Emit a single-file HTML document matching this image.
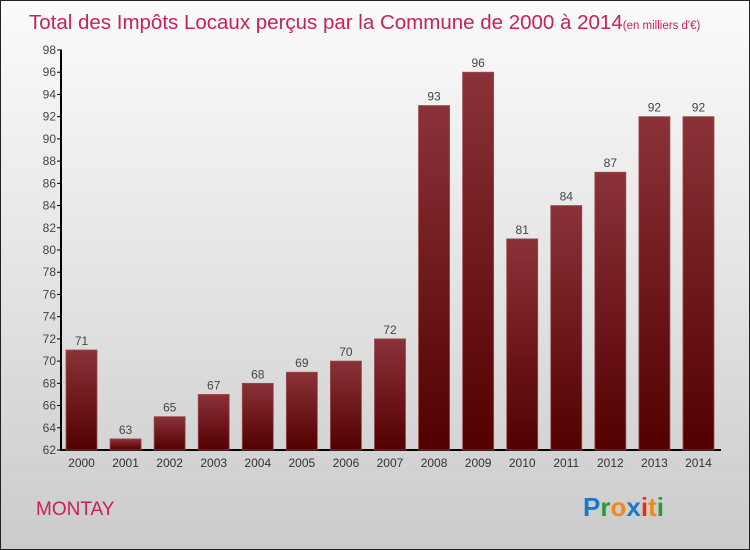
<!DOCTYPE html>
<html><head><meta charset="utf-8"><style>
body{margin:0}
#c{position:relative;width:748px;height:548px;border:1px solid #222;background:linear-gradient(#fbfbfb,#e4e4e4 50%,#cbcbcb);font-family:"Liberation Sans",sans-serif;overflow:hidden}
</style></head><body>
<div id="c">
<svg width="748" height="548" id="s">
<defs><linearGradient id="g" x1="0" y1="0" x2="0" y2="1"><stop offset="0" stop-color="#8a3238"/><stop offset="1" stop-color="#520000"/></linearGradient></defs>
<text x="28" y="28" font-size="20.5" fill="#c8205a">Total des Impôts Locaux perçus par la Commune de 2000 à 2014<tspan font-size="11.5">(en milliers d'€)</tspan></text>
<text x="35" y="514" font-size="19" fill="#c8205a">MONTAY</text>
<text x="582" y="515" font-size="26" font-weight="bold"><tspan fill="#1a78c8">P</tspan><tspan fill="#2a9a3a">r</tspan><tspan fill="#f08a10">o</tspan><tspan fill="#1a78c8">x</tspan><tspan fill="#e83010">i</tspan><tspan fill="#f08a10">t</tspan><tspan fill="#2a9a3a">i</tspan></text>
<g id="ax"></g><g id="bars"></g>
</svg></div>
<script>
const years=["2000","2001","2002","2003","2004","2005","2006","2007","2008","2009","2010","2011","2012","2013","2014"];
const values=[71,63,65,67,68,69,70,72,93,96,81,84,87,92,92];
const ticks=[62,64,66,68,70,72,74,76,78,80,82,84,86,88,90,92,94,96,98];
const NS="http://www.w3.org/2000/svg";
const y=v=>449-(v-62)*(400/36);
const x=i=>80+i*44.07;
const ax=document.getElementById('ax'),bg=document.getElementById('bars');
function mk(t,a,p,txt){const e=document.createElementNS(NS,t);for(const k in a)e.setAttribute(k,a[k]);if(txt!=null)e.textContent=txt;p.appendChild(e);return e;}
const yl=mk('line',{x1:60,x2:60,y1:y(98),y2:y(62),stroke:'#000','stroke-width':2},ax);


const xl=mk('line',{x1:59,x2:720,y1:y(62),y2:y(62),stroke:'#000','stroke-width':2},ax);


ticks.forEach(t=>{
 mk('line',{x1:56,x2:61,y1:y(t),y2:y(t),stroke:'#000'},ax);
 const e=mk('text',{x:55,y:y(t)+4,'font-size':12,fill:'#444','text-anchor':'end'},ax,t);
 
 
});
years.forEach((yr,i)=>{
 const r=mk('rect',{x:x(i)-15,y:y(values[i]),width:31,height:y(62)-y(values[i]),fill:'url(#g)',stroke:'#9a4a50','stroke-width':0.8},bg);
 
 
 const v=mk('text',{x:x(i)+0.5,y:y(values[i])-5,'font-size':12,fill:'#444','text-anchor':'middle'},bg,values[i]);
 
 
 const l=mk('text',{x:x(i)+0.5,y:466,'font-size':12,fill:'#333','text-anchor':'middle'},bg,yr);
 
 
});
</script>
</body></html>
